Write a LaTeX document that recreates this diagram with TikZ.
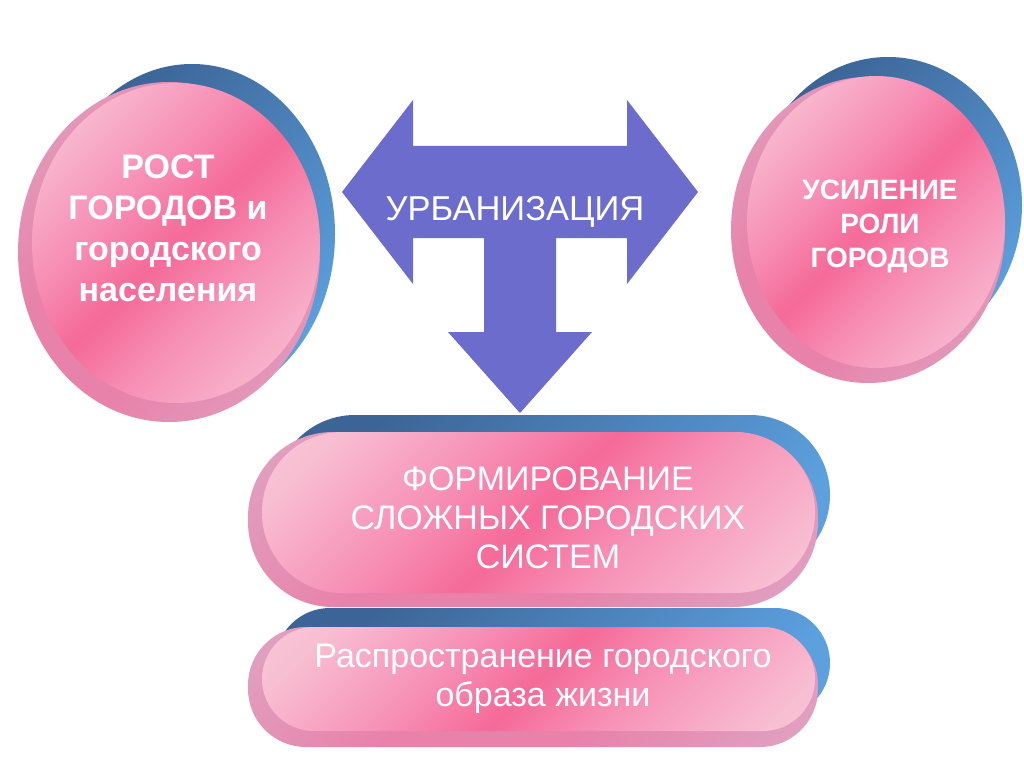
\documentclass[tikz,border=0pt]{standalone}
\usepackage{fontspec}
\setmainfont{Liberation Sans}
\definecolor{pkW}{RGB}{250,214,228}
\definecolor{pkL}{RGB}{248,190,210}
\definecolor{pkM}{RGB}{247,145,182}
\definecolor{pkD}{RGB}{245,106,152}
\definecolor{rmL}{RGB}{218,184,210}
\definecolor{rmD}{RGB}{232,130,170}
\definecolor{blD}{RGB}{60,100,150}
\definecolor{blL}{RGB}{92,160,222}
\definecolor{arrc}{RGB}{108,108,205}
\pgfdeclarehorizontalshading{faceshade}{100bp}{color(0bp)=(pkW); color(22bp)=(pkL); color(38bp)=(pkM); color(50bp)=(pkD); color(62bp)=(pkM); color(80bp)=(pkL); color(100bp)=(pkW)}
\pgfdeclarehorizontalshading{rimshade}{100bp}{color(0bp)=(rmL); color(40bp)=(rmD); color(60bp)=(rmD); color(100bp)=(rmL)}
\tikzset{
  blueback/.style={top color=blD, bottom color=blL, shading angle=45},
  rimpart/.style={shading=rimshade, shading angle=-45},
  facepart/.style={shading=faceshade, shading angle=-45},
  lbl/.style={text=white, align=center, inner sep=0pt},
  arrowshape/.style={fill=arrc},
}
\begin{document}
\begin{tikzpicture}[x=1pt,y=-1pt]
\useasboundingbox[fill=white] (0,0) rectangle (1024,767);
% left disc
\shade[blueback] (192,234) ellipse [x radius=143pt, y radius=170pt];
\shade[rimpart] (169,252) ellipse [x radius=151pt, y radius=170pt];
\shade[facepart] (176,243) ellipse [x radius=144pt, y radius=160pt];
% right disc
\shade[blueback] (888,205) ellipse [x radius=134pt, y radius=148pt];
\shade[rimpart] (868,230) ellipse [x radius=137pt, y radius=153pt];
\shade[facepart] (876,222) ellipse [x radius=129pt, y radius=146pt];
% upper bar
\shade[blueback, rounded corners=80pt] (275,415) rectangle (830,575);
\shade[rimpart, rounded corners=85pt] (248,432) rectangle (818,607);
\shade[facepart, rounded corners=80pt] (262,432) rectangle (815,593);
% lower bar
\shade[blueback, rounded corners=55pt] (275,608) rectangle (830,718);
\shade[rimpart, rounded corners=58pt] (248,627) rectangle (818,747);
\shade[facepart, rounded corners=52pt] (262,627) rectangle (815,731);
% T arrow
\fill[arrowshape] (342,192) -- (413,100) -- (413,146) -- (627,146) -- (627,100) -- (698,192) -- (627,284) -- (627,238) -- (556,238) -- (556,332) -- (592,332) -- (520,413) -- (448,332) -- (484,332) -- (484,238) -- (413,238) -- (413,284) -- cycle;
% labels
\node[lbl, font=\fontsize{34}{41}\selectfont\bfseries] (growth) at (168,228) {РОСТ\\ГОРОДОВ и\\городского\\населения};
\node[lbl, font=\fontsize{28}{34}\selectfont\bfseries] (role) at (880,227) {УСИЛЕНИЕ\\РОЛИ\\ГОРОДОВ};
\node[lbl, font=\fontsize{34.5}{38}\selectfont, anchor=base] (urb) at (515,221) {УРБАНИЗАЦИЯ};
\node[lbl, font=\fontsize{34}{39}\selectfont] (systems) at (548,518) {ФОРМИРОВАНИЕ\\СЛОЖНЫХ ГОРОДСКИХ\\СИСТЕМ};
\node[lbl, font=\fontsize{34}{39}\selectfont] (life) at (543,679) {Распространение городского\\образа жизни};
\end{tikzpicture}
\end{document}
